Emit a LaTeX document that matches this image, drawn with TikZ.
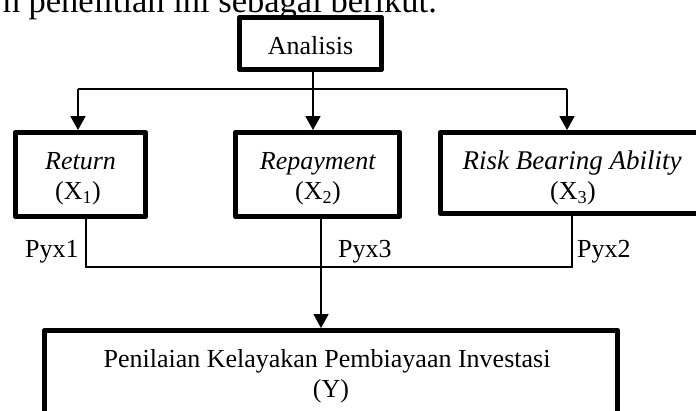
\documentclass[tikz,border=0pt]{standalone}
\usepackage{fontspec}
\setmainfont{Liberation Serif}
\usetikzlibrary{arrows.meta}
\begin{document}
\begin{tikzpicture}[x=1pt,y=-1pt,
  box/.style={draw, line width=4.6pt, line join=round, inner sep=0pt, outer sep=0pt},
  conn/.style={line width=1.8pt},
  arr/.style={conn, -{Triangle[width=15pt,length=14pt]}, shorten >=2.2pt},
  lbl/.style={inner sep=0pt, anchor=base, font=\fontsize{26}{30}\selectfont},
]
\useasboundingbox (0,0) rectangle (696,411);
\clip (0,0) rectangle (696,411);
% partial sentence above the figure
\node[anchor=base east, inner sep=0pt, font=\fontsize{34.5}{40}\selectfont] (intro) at (437,13) {n penelitian ini sebagai berikut.};
% boxes
\node[box, minimum width=142.5pt, minimum height=52.5pt] (ana) at (310.5,43.5) {};
\node[box, minimum width=130.5pt, minimum height=84.5pt] (ret) at (80.5,174.5) {};
\node[box, minimum width=164.5pt, minimum height=84.5pt] (rep) at (317.5,174.5) {};
\node[box, minimum width=263.5pt, minimum height=81.5pt] (risk) at (572,173) {};
\node[box, minimum width=573.5pt, minimum height=107.5pt] (pen) at (331,384) {};
% texts
\node[lbl] (anaT) at (310.5,55) {Analisis};
\node[lbl] (retT1) at (80.5,170) {\textit{Return}};
\node[lbl] (retT2) at (78,200) {(X\textsubscript{1})};
\node[lbl] (repT1) at (318,170) {\textit{Repayment}};
\node[lbl] (repT2) at (318,200) {(X\textsubscript{2})};
\node[lbl, font=\fontsize{27}{30}\selectfont] (riskT1) at (572,170) {\textit{Risk Bearing Ability}};
\node[lbl] (riskT2) at (573,200) {(X\textsubscript{3})};
\node[lbl, anchor=base west] (p1) at (25,258) {Pyx1};
\node[lbl, anchor=base west] (p3) at (338,258) {Pyx3};
\node[lbl, anchor=base west] (p2) at (577,258) {Pyx2};
\node[lbl] (penT1) at (327,368) {Penilaian Kelayakan Pembiayaan Investasi};
\node[lbl] (penT2) at (331,398) {(Y)};
% connectors from Analisis
\coordinate (split) at (313,89);
\coordinate (bl) at (78,89);
\coordinate (br) at (567,89);
\draw[conn] (split |- ana.south) -- (split);
\draw[conn] (bl) -- (br);
\draw[arr] (bl) -- (bl |- ret.north);
\draw[arr] (split) -- (split |- rep.north);
\draw[arr] (br) -- (br |- risk.north);
% connectors to Y
\coordinate (jl) at (86,267);
\coordinate (jr) at (572,267);
\coordinate (jm) at (321,267);
\draw[conn] (jl |- ret.south) -- (jl) -- (jr) -- (jr |- risk.south);
\draw[arr] (jm |- rep.south) -- (jm |- pen.north);
\end{tikzpicture}
\end{document}
